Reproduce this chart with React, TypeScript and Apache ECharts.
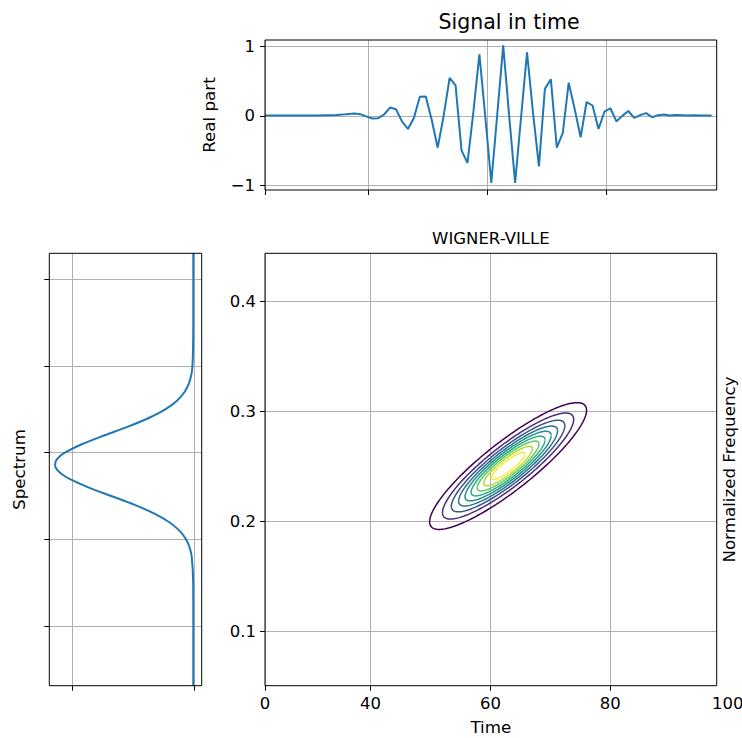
import React, { useEffect, useRef } from 'react';
import * as echarts from 'echarts';

// ---- Signal in time (real part), one value per time sample ----
const SIGNAL_T_START = 22.65;
const SIGNAL_REAL = [
  0.006, 0.006, 0.006, 0.006, 0.006, 0.006, 0.006, 0.006, 0.006, 0.007,
  0.008, 0.008, 0.012, 0.018, 0.027, 0.033, 0.025, -0.008, -0.038, -0.033,
  0.02, 0.12, 0.095, -0.08, -0.19, -0.03, 0.275, 0.28, -0.06, -0.46,
  0.0, 0.55, 0.44, -0.5, -0.68, 0.06, 0.89, -0.02, -0.97, 0.02,
  1.02, 0.0, -0.97, -0.02, 0.92, 0.05, -0.73, 0.39, 0.53, -0.46,
  -0.25, 0.48, 0.1, -0.31, 0.2, 0.15, -0.19, 0.06, 0.11, -0.08,
  0.0, 0.07, -0.03, 0.01, 0.04, -0.02, 0.01, 0.02, 0.005, 0.012,
  0.01, 0.006, 0.008, 0.006, 0.006, 0.006,
];
const TOP_TIME_TICKS = [22.65, 40, 60, 80];
const REAL_TICKS = [-1, 0, 1];

// ---- Spectrum (rotated): position along frequency, magnitude ----
const SPEC_POS = [
  -0.069, 0.0, 0.05, 0.08, 0.09, 0.1, 0.11, 0.12, 0.13, 0.14, 0.15, 0.16, 0.17,
  0.175, 0.18, 0.185, 0.19, 0.195, 0.2, 0.21, 0.22, 0.23, 0.24, 0.25, 0.26,
  0.27, 0.28, 0.29, 0.3, 0.32, 0.35, 0.43,
];
const SPEC_VAL = [
  0.006, 0.006, 0.007, 0.019, 0.035, 0.066, 0.12, 0.206, 0.33, 0.492, 0.68, 0.869, 1.027,
  1.085, 1.124, 1.141, 1.136, 1.109, 1.062, 0.918, 0.734, 0.543, 0.372, 0.236, 0.14,
  0.078, 0.042, 0.022, 0.013, 0.008, 0.006, 0.006,
];
const SPEC_X_TICKS = [0, 1];
const SPEC_Y_TICKS = [0, 0.1, 0.2, 0.3, 0.4];

// ---- Wigner-Ville: Gaussian chirp atom ----
const WV_T0 = 62.95;
const WV_F0 = 0.25;
const WV_RATE = 0.00387;
const WV_SIGMA_T = 6.1;
const WV_SIGMA_F = 0.0128;
const WV_LEVELS = [0.1, 0.2, 0.3, 0.4, 0.5, 0.6, 0.7, 0.8, 0.9];
const VIRIDIS = ['#440154', '#472c7a', '#3b528b', '#2c728e', '#21918c', '#27ad81', '#5ec962', '#aadc32', '#fde725'];

const MAIN_TIME_TICKS = [22.4, 40, 60, 80, 97.75];
const MAIN_TIME_LABELS = ['0', '40', '60', '80', '100'];
const FREQ_TICKS = [0.1, 0.2, 0.3, 0.4];

const FONT = 'DejaVu Sans';
const GRID_COLOR = '#b0b0b0';

function contour(level: number): number[][] {
  const s = Math.sqrt(2 * Math.log(1 / level));
  const pts: number[][] = [];
  const n = 160;
  for (let j = 0; j <= n; j++) {
    const th = (2 * Math.PI * j) / n;
    const tau = WV_SIGMA_T * s * Math.cos(th);
    const u = WV_SIGMA_F * s * Math.sin(th);
    pts.push([WV_T0 + tau, WV_F0 + WV_RATE * tau + u]);
  }
  return pts;
}

function fmtMinus(v: number): string {
  return v < 0 ? '\u2212' + Math.abs(v) : String(v);
}

const tick = { show: true, inside: false, length: 5, lineStyle: { color: '#000', width: 1 } };
const split = { show: true, lineStyle: { color: GRID_COLOR, width: 1 } };
const noLine = { show: false, onZero: false };
const tickLabel = { color: '#000', fontFamily: FONT, fontSize: 16.5 };
const nameStyle = { color: '#000', fontFamily: FONT, fontSize: 16.7 };
const gridBase = { show: true, borderColor: '#000', borderWidth: 1, z: 5, containLabel: false, outerBoundsMode: 'none' };

export default function App() {
  const ref = useRef<HTMLDivElement>(null);
  useEffect(() => {
    const chart = echarts.init(ref.current!, null, { renderer: 'svg' });
    const option: any = {
      animation: false,
      backgroundColor: '#fff',
      textStyle: { fontFamily: FONT },
      grid: [
        { ...gridBase, left: 265, top: 40, width: 451.7, height: 150 },
        { ...gridBase, left: 49.3, top: 253.3, width: 152.4, height: 432.4 },
        { ...gridBase, left: 265, top: 253.3, width: 451.7, height: 432.4 },
      ],
      xAxis: [
        {
          gridIndex: 0, type: 'value', min: 22.65, max: 98.5, position: 'bottom',
          axisLine: noLine,
          axisTick: { ...tick, customValues: TOP_TIME_TICKS },
          axisLabel: { show: false, customValues: TOP_TIME_TICKS },
          splitLine: split,
        },
        {
          gridIndex: 1, type: 'value', min: -0.063, max: 1.189, inverse: true, position: 'bottom',
          axisLine: noLine,
          axisTick: { ...tick, customValues: SPEC_X_TICKS },
          axisLabel: { show: false, customValues: SPEC_X_TICKS },
          splitLine: split,
        },
        {
          gridIndex: 2, type: 'value', min: 22.4, max: 97.75, position: 'bottom',
          name: 'Time', nameLocation: 'middle', nameGap: 33,
          nameTextStyle: { ...nameStyle },
          axisLine: noLine,
          axisTick: { ...tick, customValues: MAIN_TIME_TICKS.slice(0, 4) },
          axisLabel: {
            ...tickLabel, margin: 9, showMinLabel: true, showMaxLabel: true,
            customValues: MAIN_TIME_TICKS,
            formatter: (v: number) => {
              const i = MAIN_TIME_TICKS.findIndex((t) => Math.abs(t - v) < 1e-6);
              const lab = i >= 0 ? MAIN_TIME_LABELS[i] : '';
              return i === MAIN_TIME_TICKS.length - 1 ? '{r|' + lab + '}' : lab;
            },
            rich: { r: { ...tickLabel, padding: [0, 0, 0, 22] } },
          },
          splitLine: split,
        },
      ],
      yAxis: [
        {
          gridIndex: 0, type: 'value', min: -1.072, max: 1.097, position: 'left',
          name: 'Real part', nameLocation: 'middle', nameGap: 48, nameRotate: 90,
          nameTextStyle: { ...nameStyle },
          axisLine: noLine,
          axisTick: { ...tick, customValues: REAL_TICKS },
          axisLabel: { ...tickLabel, margin: 10, customValues: REAL_TICKS, formatter: fmtMinus },
          splitLine: split,
        },
        {
          gridIndex: 1, type: 'value', min: -0.0689, max: 0.43, position: 'left',
          name: 'Spectrum', nameLocation: 'middle', nameGap: 22, nameRotate: 90,
          nameTextStyle: { ...nameStyle },
          axisLine: noLine,
          axisTick: { ...tick, customValues: SPEC_Y_TICKS },
          axisLabel: { show: false, customValues: SPEC_Y_TICKS },
          splitLine: split,
        },
        {
          gridIndex: 2, type: 'value', min: 0.0503, max: 0.4434, position: 'left',
          axisLine: noLine,
          axisTick: { ...tick, customValues: FREQ_TICKS },
          axisLabel: { ...tickLabel, margin: 9, customValues: FREQ_TICKS, formatter: (v: number) => v.toFixed(1) },
          splitLine: split,
        },
        {
          gridIndex: 2, type: 'value', position: 'right', min: 0.0503, max: 0.4434,
          name: 'Normalized Frequency', nameLocation: 'middle', nameGap: 4, nameRotate: 90,
          nameTextStyle: { ...nameStyle, verticalAlign: 'top' },
          axisLine: noLine, axisTick: { show: false }, axisLabel: { show: false }, splitLine: { show: false },
        },
      ],
      series: [
        {
          type: 'line', xAxisIndex: 0, yAxisIndex: 0, showSymbol: false, symbol: 'none',
          data: SIGNAL_REAL.map((v, i) => [SIGNAL_T_START + i, v]),
          lineStyle: { color: '#1f77b4', width: 2 },
          z: 3,
        },
        {
          type: 'line', xAxisIndex: 1, yAxisIndex: 1, showSymbol: false, symbol: 'none', smooth: 0.3,
          data: SPEC_POS.map((p, i) => [SPEC_VAL[i], p]),
          lineStyle: { color: '#1f77b4', width: 2 },
          z: 3,
        },
        ...WV_LEVELS.map((lv, i) => ({
          type: 'line', xAxisIndex: 2, yAxisIndex: 2, showSymbol: false, symbol: 'none',
          name: 'level ' + lv,
          data: contour(lv),
          lineStyle: { color: VIRIDIS[i], width: 1.5 },
          z: 3,
        })),
      ],
      graphic: [
        { type: 'text', x: 509, y: 22, style: { text: 'Signal in time', font: '20.5px "DejaVu Sans"', fill: '#000', textAlign: 'center', textVerticalAlign: 'middle' } },
        { type: 'text', x: 490.85, y: 238, style: { text: 'WIGNER-VILLE', font: '16.5px "DejaVu Sans"', fill: '#000', textAlign: 'center', textVerticalAlign: 'middle' } },
      ],
    };
    chart.setOption(option);
    return () => chart.dispose();
  }, []);
  return <div ref={ref} style={{ position: 'absolute', left: 0, top: 0, width: 742, height: 738 }} />;
}
